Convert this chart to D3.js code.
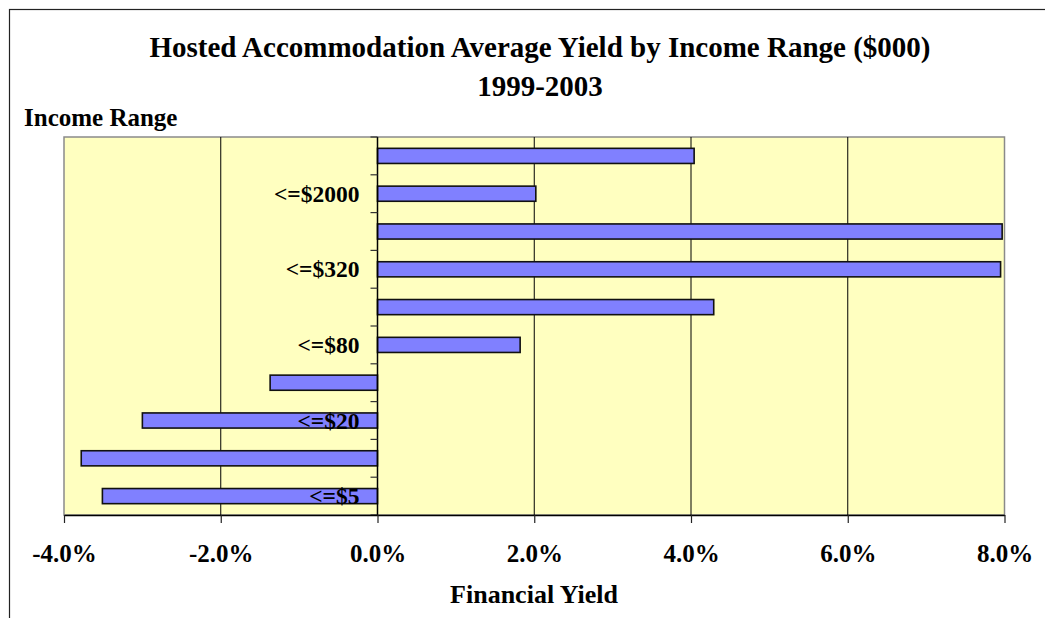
<!DOCTYPE html>
<html>
<head>
<meta charset="utf-8">
<style>
    body { margin: 0; background: white; }
    svg { display: block; font-family: 'Liberation Serif', 'Times New Roman', serif; font-weight: bold; }
</style>
</head>
<body>
<svg width="1045" height="618"></svg>
<script src="https://d3js.org/d3.v7.min.js"></script>
<script>
    // categories listed bottom to top, like the Excel sheet
    let ranges = ["<=$5", "<=$10", "<=$20", "<=$40", "<=$80", "<=$160", "<=$320", "<=$1000", "<=$2000", ">$2000"];
    let yields = [-0.0351, -0.0378, -0.0300, -0.0137, 0.0182, 0.0429, 0.0795, 0.0797, 0.0202, 0.0404];
    let xTicks = [-0.04, -0.02, 0, 0.02, 0.04, 0.06, 0.08];

    let svg = d3.select("svg");

    let plot = {left: 64, right: 1004.5, top: 137, bottom: 515};

    // outer chart frame (runs off the picture on right and bottom)
    svg.append("rect")
        .attr("x", 9.5).attr("y", 9.5)
        .attr("width", 1100).attr("height", 700)
        .attr("fill", "white")
        .attr("stroke", "#222")
        .attr("stroke-width", 1.2);

    let x = d3.scaleLinear()
        .domain([-0.04, 0.08])
        .range([plot.left, plot.right]);

    // top category first on screen
    let y = d3.scaleBand()
        .domain(ranges.slice().reverse())
        .range([plot.top, plot.bottom])
        .paddingInner(0.6)
        .paddingOuter(0.3);

    let edge = d3.scaleLinear()
        .domain([0, ranges.length])
        .range([plot.top, plot.bottom]);

    // plot background
    svg.append("rect")
        .attr("x", plot.left).attr("y", plot.top)
        .attr("width", plot.right - plot.left)
        .attr("height", plot.bottom - plot.top)
        .attr("fill", "#FFFFC0")
        .attr("stroke", "#8a8a8a")
        .attr("stroke-width", 1.5);

    // vertical gridlines
    svg.append("g")
        .selectAll("line")
        .data(xTicks.filter(d => d != -0.04 && d != 0.08))
        .join("line")
        .attr("x1", d => x(d)).attr("x2", d => x(d))
        .attr("y1", plot.top).attr("y2", plot.bottom)
        .attr("stroke", "black")
        .attr("stroke-width", 1);

    // bars
    let data = ranges.map((r, i) => ({range: r, value: yields[i]}));
    svg.append("g")
        .selectAll("rect")
        .data(data)
        .join("rect")
        .attr("x", d => x(Math.min(0, d.value)))
        .attr("y", d => y(d.range))
        .attr("width", d => Math.abs(x(d.value) - x(0)))
        .attr("height", y.bandwidth())
        .attr("fill", "#8080FF")
        .attr("stroke", "#111")
        .attr("stroke-width", 1.6);

    // y axis at 0% with tick marks between categories
    svg.append("line")
        .attr("x1", x(0)).attr("x2", x(0))
        .attr("y1", plot.top).attr("y2", plot.bottom)
        .attr("stroke", "black").attr("stroke-width", 1.5);

    svg.append("g")
        .selectAll("line")
        .data(d3.range(ranges.length + 1))
        .join("line")
        .attr("x1", x(0) - 7).attr("x2", x(0))
        .attr("y1", d => edge(d)).attr("y2", d => edge(d))
        .attr("stroke", "#333").attr("stroke-width", 1.2);

    // every other category label (Excel skipped the rest)
    svg.append("g")
        .selectAll("text")
        .data(ranges.filter((r, i) => i % 2 == 0))
        .join("text")
        .attr("x", x(0) - 18)
        .attr("y", d => y(d) + y.bandwidth() / 2 + 8)
        .attr("text-anchor", "end")
        .attr("font-size", "23.5px")
        .text(d => d);

    // x axis, plain hyphen for negatives like the original
    let pct = d3.formatLocale({decimal: ".", thousands: ",", grouping: [3], currency: ["$", ""], minus: "-"}).format(".1%");
    let xAxis = d3.axisBottom(x)
        .tickValues(xTicks)
        .tickFormat(pct)
        .tickSize(8)
        .tickSizeOuter(0);

    let gx = svg.append("g")
        .attr("transform", "translate(0," + plot.bottom + ")")
        .call(xAxis);
    gx.select(".domain").attr("stroke", "black").attr("stroke-width", 1.5);
    gx.selectAll(".tick line").attr("stroke", "#222").attr("stroke-width", 1.2);
    gx.selectAll(".tick text")
        .attr("y", 47)
        .attr("dy", null)
        .attr("font-family", "'Liberation Serif', serif")
        .attr("font-weight", "bold")
        .attr("font-size", "25px")
        .attr("fill", "black");

    // titles
    svg.append("text")
        .attr("x", 540).attr("y", 57)
        .attr("text-anchor", "middle")
        .attr("font-size", "29px")
        .text("Hosted Accommodation Average Yield by Income Range ($000)");

    svg.append("text")
        .attr("x", 540).attr("y", 96)
        .attr("text-anchor", "middle")
        .attr("font-size", "29px")
        .text("1999-2003");

    svg.append("text")
        .attr("x", 24).attr("y", 126)
        .attr("font-size", "25px")
        .text("Income Range");

    svg.append("text")
        .attr("x", 534).attr("y", 603)
        .attr("text-anchor", "middle")
        .attr("font-size", "26px")
        .text("Financial Yield");
</script>
</body>
</html>
